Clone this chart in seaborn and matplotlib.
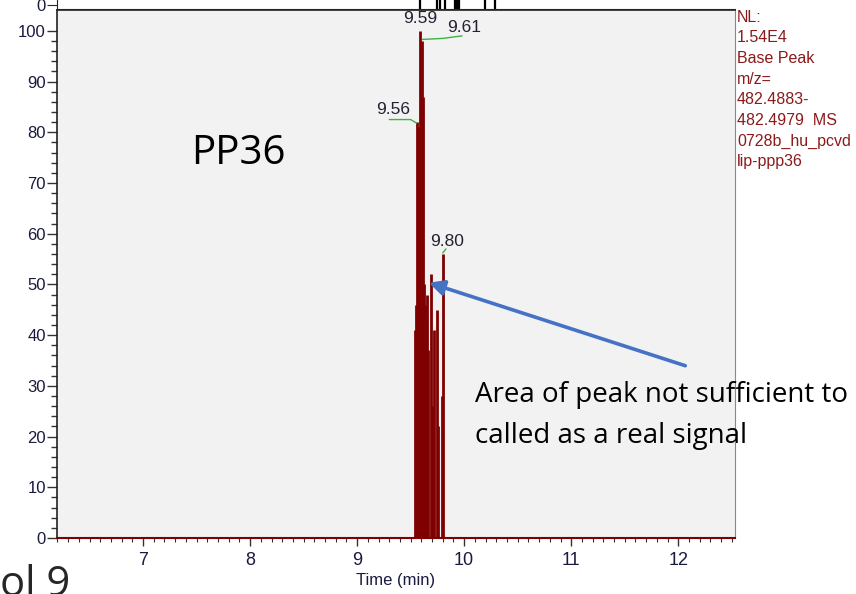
import matplotlib
matplotlib.use('Agg')
import matplotlib.pyplot as plt
import seaborn as sns

# chromatogram stems (retention time in min, relative abundance %)
peak_times = [9.540, 9.550, 9.560, 9.570, 9.580, 9.590, 9.605, 9.615, 9.625,
              9.632, 9.640, 9.650, 9.660, 9.686, 9.700, 9.720, 9.744, 9.752,
              9.790, 9.800]
peak_heights = [41, 46, 82, 81, 70, 100, 98, 87, 50,
                46, 43, 48, 37, 52, 26, 41, 45, 22,
                28, 56]

# labelled peaks
label_times = [9.56, 9.59, 9.61, 9.80]
label_heights = [82, 100, 98, 56]
label_texts = ['9.56', '9.59', '9.61', '9.80']

# strip of the panel above (only its bottom edge is visible)
top_times = [9.589, 9.748, 9.776, 9.822, 9.91, 9.93, 9.95, 10.196, 10.290]

info_lines = ['NL:', '1.54E4', 'Base Peak', 'm/z=', '482.4883-',
              '482.4979  MS', '0728b_hu_pcvd', 'lip-ppp36']

sns.set_style('ticks')
plt.rcParams['font.family'] = ['Liberation Sans', 'DejaVu Sans']

fig = plt.figure(figsize=(8.56, 5.94), dpi=100)
fig.patch.set_facecolor('white')

W, H = 856, 594
def rect(x0, y0, x1, y1):
    return [x0 / W, 1 - y1 / H, (x1 - x0) / W, (y1 - y0) / H]

ax = fig.add_axes(rect(57, 10, 735, 538))
ax.set_facecolor('#f2f2f2')
dark_red = '#7f0000'
ax.vlines(peak_times, 0, peak_heights, color=dark_red, lw=2.0)
ax.set_xlim(6.196, 12.53)
ax.set_ylim(0, 104.1)

ax.set_yticks(range(0, 101, 10))
ax.set_yticks(range(0, 101, 2), minor=True)
ax.set_xticks(range(7, 13))
ax.set_xticks([6.2 + 0.1 * i for i in range(64)], minor=True)
ax.tick_params(axis='y', which='major', length=7, width=1, color='#333333',
               labelsize=12, labelcolor='#1a1a40', pad=1)
ax.tick_params(axis='y', which='minor', length=4, width=1, color='#333333')
ax.tick_params(axis='x', which='major', length=6, width=1, color='#333333',
               labelsize=13, labelcolor='#1a1a40', pad=4)
ax.tick_params(axis='x', which='minor', length=3, width=0.8, color='#333333')
ax.set_xlabel('Time (min)', fontsize=12, color='#1a1a40', labelpad=3)
for side in ['left', 'top']:
    ax.spines[side].set_color('#222222')
    ax.spines[side].set_linewidth(1.2)
ax.spines['right'].set_color('#888888')
ax.spines['bottom'].set_color(dark_red)
ax.spines['bottom'].set_linewidth(1.5)

# peak labels with green leader lines
green = '#3cb43c'
lab_kw = dict(fontsize=12.5, color='#222233', ha='center', va='bottom')
ax.plot([9.30, 9.50, 9.555], [82.5, 82.5, 81.8], color=green, lw=1)
ax.text(9.34, 83.0, label_texts[0], **lab_kw)
ax.text(9.59, 100.9, label_texts[1], **lab_kw)
ax.plot([9.61, 9.80, 9.98], [98.3, 98.5, 99.0], color=green, lw=1)
ax.text(10.00, 99.1, label_texts[2], **lab_kw)
ax.plot([9.80, 9.83], [56.2, 57.0], color=green, lw=1)
ax.text(9.84, 57.0, label_texts[3], **lab_kw)

# annotations
ax.text(7.45, 75.8, 'PP36', fontsize=29, family=['Open Sans', 'DejaVu Sans'],
        color='black', ha='left', va='center')
ax.annotate('', xy=(9.645, 50.5), xytext=(12.09, 33.8),
            arrowprops=dict(arrowstyle='-|>,head_length=0.9,head_width=0.45',
                            color='#4472c4', lw=2.6))
fig.text(475 / W, 1 - 395 / H, 'Area of peak not sufficient to', fontsize=20,
         family=['Open Sans', 'DejaVu Sans'], color='black', ha='left', va='center')
fig.text(475 / W, 1 - 436 / H, 'called as a real signal', fontsize=20,
         family=['Open Sans', 'DejaVu Sans'], color='black', ha='left', va='center')

# side info text
for i, line in enumerate(info_lines):
    fig.text(737 / W, 1 - (17 + 20.7 * i) / H, line, fontsize=11.5,
             color='#8b1a1a', ha='left', va='center')

# bottom edge of the panel above
top = fig.add_axes(rect(57, 0, 735, 9))
top.set_facecolor('white')
top.vlines(top_times, 0, 1, color='black', lw=1.6)
top.set_xlim(ax.get_xlim())
top.set_ylim(0, 1)
top.set_xticks([])
top.set_yticks([0.4])
top.set_yticklabels(['0'])
top.tick_params(axis='y', length=7, labelsize=12, labelcolor='#1a1a40', pad=1)
for side in ['top', 'right']:
    top.spines[side].set_visible(False)

# partially visible text from the slide below
fig.text(0, 1 - 606 / H, 'ol 9', fontsize=30, family=['Open Sans', 'DejaVu Sans'],
         ha='left', va='bottom')

fig.savefig('out.png', dpi=100)
